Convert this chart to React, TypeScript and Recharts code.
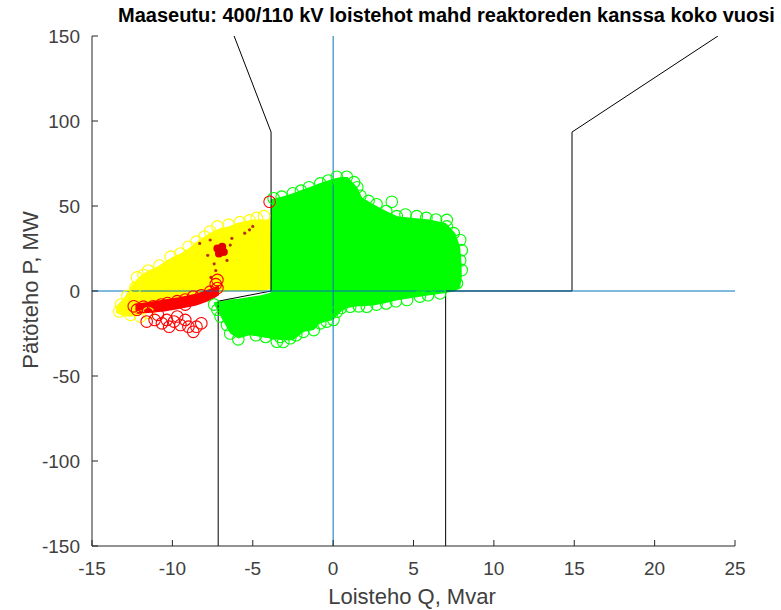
import React from 'react';
import { ComposedChart, XAxis, YAxis, Area, Line, Scatter } from 'recharts';

// ---------- axis ticks ----------
const xTicks = [-15, -10, -5, 0, 5, 10, 15, 20, 25];
const yTicks = [-150, -100, -50, 0, 50, 100, 150];

// ---------- dense cores: [Q, P low, P high] ----------
const greenCore: [number, number, number][] = [
  [-7.4, -8, -6.5], [-7.0, -15, -6], [-6.4, -25, -5], [-5.9, -28, -4.5], [-5.2, -26, -3.5],
  [-4.5, -27, -2.5], [-3.9, -28, -1], [-3.86, -28, 54], [-3.2, -29, 55.5], [-2.5, -29, 57.5],
  [-1.8, -24, 60], [-1.2, -23, 62], [-0.8, -19, 63.5], [0.0, -17, 66], [0.5, -12, 67],
  [0.9, -10, 67], [1.5, -9, 61], [1.8, -9, 55], [2.5, -8.5, 51], [3.3, -7, 47],
  [4.0, -5.5, 44], [5.0, -4, 43], [6.0, -2.5, 42], [7.0, -1.2, 40], [7.6, 0, 34],
  [7.9, 2, 26], [8.0, 8, 15],
];

const yellowCore: [number, number, number][] = [
  [-13.5, -13, -9], [-13.0, -15, -4], [-12.5, -15, 4], [-12.0, -14, 9], [-11.5, -12, 12],
  [-11.0, -11, 14], [-10.5, -9, 17], [-10.0, -8, 20], [-9.5, -7, 22], [-9.0, -6, 25],
  [-8.5, -5, 29], [-8.0, -4, 32], [-7.5, -2, 35], [-7.0, -1, 37], [-6.5, 0, 38],
  [-6.0, 0, 40], [-5.5, 0, 41], [-5.0, 0, 42], [-4.4, 0, 42], [-3.9, 1, 42],
];

const redBand: [number, number, number][] = [
  [-12.3, -13.5, -7.5], [-11.5, -13, -6.5], [-10.5, -12, -5], [-9.5, -10.5, -3.5],
  [-8.5, -8.5, -1.5], [-7.6, -5.5, 1.5], [-7.1, -2.5, 3.5],
];

// ---------- individual circles: [Q, P] ----------
const greenPoints: [number, number][] = [
  [-3.7, 54.5], [-3.2, 55.5], [-2.5, 57.5], [-2.0, 59], [-1.5, 61], [-0.8, 63.3], [-0.3, 65],
  [0.23, 67.2], [0.85, 67.2], [1.3, 64], [1.5, 61], [1.7, 56], [2.2, 53], [2.7, 51],
  [3.65, 52.5], [3.3, 47], [3.96, 44], [4.5, 45], [5.2, 44], [5.8, 43], [6.4, 42],
  [7.07, 41.8], [7.07, 38], [7.5, 34], [7.9, 30], [8.0, 24], [7.9, 18], [8.0, 12.4], [7.7, 4.5],
  [6.65, -1.4], [5.9, -2.5], [5.4, -3.3], [4.6, -5.3], [3.9, -6], [3.3, -7.3], [2.7, -8],
  [2.1, -9.2], [1.6, -9], [1.06, -9.2], [0.5, -10], [0.23, -12.2], [0.02, -17], [-0.4, -18],
  [-0.8, -19], [-1.2, -23], [-1.85, -24], [-2.3, -26], [-2.67, -27.8], [-3.1, -30], [-3.5, -29.8],
  [-3.7, -25], [-4.2, -27], [-4.8, -26], [-5.16, -22], [-5.9, -28.4], [-6.4, -25], [-6.6, -20],
  [-7.0, -15], [-7.2, -11], [-7.4, -8], [-3.3, -27], [-6.0, -23],
];

const yellowPoints: [number, number][] = [
  [-13.3, -12], [-13.2, -8], [-12.8, -3], [-12.3, 2], [-12.2, 8], [-11.8, 9.4], [-11.4, 7.6],
  [-11.5, 12], [-10.8, 15], [-10.1, 20.2], [-9.5, 22], [-9.0, 26], [-8.5, 29], [-8.0, 32],
  [-7.65, 35], [-7.2, 38], [-6.5, 39], [-5.8, 40.5], [-5.2, 41.5], [-4.75, 43], [-4.3, 44],
  [-12.6, -14], [-12.0, -15], [-11.5, -13],
];

const redPoints: [number, number][] = [
  [-12.4, -9], [-12.2, -11], [-11.8, -9.2], [-11.2, -9], [-10.7, -8], [-10.3, -7.1], [-9.7, -6],
  [-9.2, -5], [-8.7, -3.3], [-8.2, -2.5], [-7.65, -0.4], [-7.2, 1.7], [-7.3, 4], [-7.2, 6.5],
  [-11.6, -18], [-11.1, -17], [-10.9, -14], [-10.65, -19], [-10.35, -17], [-10.2, -21],
  [-9.9, -18], [-9.7, -15], [-9.5, -20], [-9.2, -17], [-9.0, -21], [-8.5, -21], [-8.7, -24],
  [-8.2, -19], [-9.2, -8],
  [-3.95, 52.5],
];

// dense red spot and partly hidden red circles inside the yellow cloud
const redSolid: [number, number][] = [[-7.0, 24], [-7.1, 22], [-6.9, 26], [-7.2, 25], [-6.8, 23]];
const redHidden: [number, number][] = [
  [-7.65, 30], [-5.2, 36], [-5.5, 34], [-8.3, 28], [-7.3, 12], [-7.4, 16], [-6.3, 31],
  [-5.0, 38], [-7.6, 8], [-6.6, 18], [-7.8, 21], [-6.4, 27],
];

// ---------- reference lines: [Q, P] ----------
const leftLimit: [number, number][] = [[-6.16, 150], [-3.86, 93.5], [-3.86, 0], [-7.15, -6], [-7.15, -150]];
const rightLimit: [number, number][] = [[7, -150], [7, 0], [14.86, 0], [14.86, 93.5], [23.94, 150]];
const qZeroLine: [number, number][] = [[0, -150], [0, 150]];
const pZeroLine: [number, number][] = [[-15, 0], [25, 0]];

const toRange = (a: [number, number, number][]) => a.map(([x, lo, hi]) => ({ x, r: [lo, hi] }));
const toPts = (a: [number, number][]) => a.map(([x, y]) => ({ x, y }));

const ring = (color: string) => (props: any) => (
  <circle cx={props.cx} cy={props.cy} r={5.8} fill="none" stroke={color} strokeWidth={1.1} />
);
const dot = (color: string, r: number) => (props: any) => (
  <circle cx={props.cx} cy={props.cy} r={r} fill={color} stroke="none" />
);

const FONT = '"Liberation Sans", Arial, Helvetica, sans-serif';
const TEXT_COL = '#404040';

export default function App() {
  return (
    <div style={{ position: 'absolute', left: 0, top: 0, width: 781, height: 610 }}>
      <ComposedChart
        width={781}
        height={610}
        margin={{ top: 36, right: 46, bottom: 24, left: 32 }}
        style={{ fontFamily: FONT }}
      >
        <XAxis
          type="number"
          dataKey="x"
          domain={[-15, 25]}
          ticks={xTicks}
          allowDataOverflow
          height={40}
          tickSize={-6}
          tickMargin={22}
          stroke="#262626"
          tick={{ fill: TEXT_COL, fontSize: 19, fontFamily: FONT }}
          tickLine={{ stroke: '#262626' }}
          axisLine={{ stroke: '#262626' }}
        />
        <YAxis
          type="number"
          dataKey="y"
          domain={[-150, 150]}
          ticks={yTicks}
          allowDataOverflow
          width={60}
          tickSize={-6}
          tickMargin={18}
          stroke="#262626"
          tick={{ fill: TEXT_COL, fontSize: 19, fontFamily: FONT }}
          tickLine={{ stroke: '#262626' }}
          axisLine={{ stroke: '#262626' }}
        />
        <Area data={toRange(yellowCore)} dataKey="r" type="linear" stroke="none" fill="#FFFF00" fillOpacity={1} isAnimationActive={false} />
        <Area data={toRange(greenCore)} dataKey="r" type="linear" stroke="none" fill="#00FF00" fillOpacity={1} isAnimationActive={false} />
        <Scatter data={toPts(yellowPoints)} dataKey="y" shape={ring('#FFFF00')} isAnimationActive={false} />
        <Scatter data={toPts(greenPoints)} dataKey="y" shape={ring('#00FF00')} isAnimationActive={false} />
        <Scatter data={toPts(redHidden)} dataKey="y" shape={dot('#B8321E', 1.6)} isAnimationActive={false} />
        <Area data={toRange(redBand)} dataKey="r" type="linear" stroke="none" fill="#FF0000" fillOpacity={1} isAnimationActive={false} />
        <Scatter data={toPts(redPoints)} dataKey="y" shape={ring('#FF0000')} isAnimationActive={false} />
        <Scatter data={toPts(redSolid)} dataKey="y" shape={dot('#E00000', 4)} isAnimationActive={false} />
        <Line data={toPts(leftLimit)} dataKey="y" stroke="#000000" strokeWidth={1} dot={false} isAnimationActive={false} />
        <Line data={toPts(rightLimit)} dataKey="y" stroke="#000000" strokeWidth={1} dot={false} isAnimationActive={false} />
        <Line data={toPts(qZeroLine)} dataKey="y" stroke="#0072BD" strokeWidth={1} dot={false} isAnimationActive={false} />
        <Line data={toPts(pZeroLine)} dataKey="y" stroke="#0072BD" strokeWidth={1} dot={false} isAnimationActive={false} />
        <text x={118} y={22} fontSize={20} fontWeight="bold" fill="#000" fontFamily={FONT}>
          Maaseutu: 400/110 kV loistehot mahd reaktoreden kanssa koko vuosi
        </text>
        <text x={412} y={604} fontSize={22} fill={TEXT_COL} textAnchor="middle" fontFamily={FONT}>
          Loisteho Q, Mvar
        </text>
        <text x={30} y={290} fontSize={22} fill={TEXT_COL} textAnchor="middle" dominantBaseline="central" fontFamily={FONT} transform="rotate(-90 30 290)">
          Pätöteho P, MW
        </text>
      </ComposedChart>
    </div>
  );
}
